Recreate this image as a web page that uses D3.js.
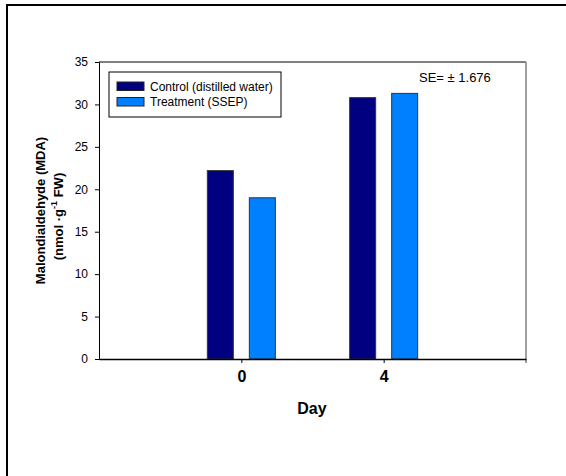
<!DOCTYPE html>
<html>
<head>
<meta charset="utf-8">
<script src="https://cdn.jsdelivr.net/npm/d3@7"></script>
<style>
  body { margin: 0; background: #fff; }
  svg { display: block; font-family: "Liberation Sans", Arial, sans-serif; }
</style>
</head>
<body>
<svg width="566" height="476"></svg>
<script>
// data
var days = ["0", "4"];
var series = ["Control (distilled water)", "Treatment (SSEP)"];
var control = [22.2, 30.8];
var treatment = [19.0, 31.3];
var yTicks = [0, 5, 10, 15, 20, 25, 30, 35];
var colors = ["#000080", "#0080ff"];

var svg = d3.select("svg");

// outer frame (only top and left edges fall inside the picture)
svg.append("rect")
    .attr("x", 7).attr("y", 5)
    .attr("width", 600).attr("height", 500)
    .attr("fill", "none")
    .attr("stroke", "#000")
    .attr("stroke-width", 2);

// plot area edges (note: "top" is taken by window.top)
var pLeft = 99, pRight = 526, pTop = 62, pBottom = 359;

var x = d3.scalePoint().domain(days).range([pLeft, pRight]).padding(1);
var y = d3.scaleLinear().domain([0, 35]).range([pBottom, pTop]);

var barW = 26, gap = 16;

// plot frame: top black, right gray
svg.append("line").attr("x1", pLeft).attr("x2", pRight).attr("y1", pTop).attr("y2", pTop)
    .attr("stroke", "#000").attr("stroke-width", 1);
svg.append("line").attr("x1", pRight).attr("x2", pRight).attr("y1", pTop).attr("y2", pBottom + 4)
    .attr("stroke", "#808080").attr("stroke-width", 1.5);

// bars
var rows = [];
days.forEach(function (d, i) {
    rows.push({day: d, s: 0, v: control[i]});
    rows.push({day: d, s: 1, v: treatment[i]});
});

svg.selectAll(".bar")
    .data(rows)
    .enter()
    .append("rect")
    .attr("class", "bar")
    .attr("x", function (d) { return d.s === 0 ? x(d.day) - gap / 2 - barW : x(d.day) + gap / 2; })
    .attr("y", function (d) { return y(d.v); })
    .attr("width", barW)
    .attr("height", function (d) { return y(0) - y(d.v); })
    .attr("fill", function (d) { return colors[d.s]; })
    .attr("stroke", "#333")
    .attr("stroke-width", 1);

// y axis
var yAxis = svg.append("g")
    .attr("transform", "translate(" + pLeft + ",0)")
    .call(d3.axisLeft(y).tickValues(yTicks).tickSize(4).tickPadding(7));
yAxis.select(".domain").attr("stroke", "#000");
yAxis.selectAll("text").style("font-size", "12px").attr("fill", "#000");

// x axis
var xAxis = svg.append("g")
    .attr("transform", "translate(0," + pBottom + ")")
    .call(d3.axisBottom(x).tickSize(4).tickPadding(8).tickSizeOuter(0));
xAxis.select(".domain").attr("stroke", "#000").attr("stroke-width", 1.5);
xAxis.selectAll("text").style("font-size", "16px").style("font-weight", "bold").attr("fill", "#000");

// axis titles
svg.append("text")
    .attr("x", 312).attr("y", 414)
    .attr("text-anchor", "middle")
    .style("font-size", "16px").style("font-weight", "bold")
    .text("Day");

var yt = svg.append("text")
    .attr("transform", "translate(45," + ((pTop + pBottom) / 2) + ") rotate(-90)")
    .attr("text-anchor", "middle")
    .style("font-size", "13px").style("font-weight", "bold");
yt.append("tspan").attr("x", 0).attr("y", 0).text("Malondialdehyde (MDA)");
var l2 = yt.append("tspan").attr("x", -6).attr("dy", 18);
l2.append("tspan").text("(nmol \u00b7g");
l2.append("tspan").attr("dy", -6).style("font-size", "9px").text("-1");
l2.append("tspan").attr("dy", 6).text(" FW)");

// legend
svg.append("rect")
    .attr("x", 109).attr("y", 72).attr("width", 172).attr("height", 45)
    .attr("fill", "#fff").attr("stroke", "#000").attr("stroke-width", 1);
var lg = svg.selectAll(".lg")
    .data(series)
    .enter()
    .append("g")
    .attr("class", "lg")
    .attr("transform", function (d, i) { return "translate(117," + (82 + i * 15.5) + ")"; });
lg.append("rect").attr("width", 27).attr("height", 8.5)
    .attr("fill", function (d, i) { return colors[i]; })
    .attr("stroke", "#222").attr("stroke-width", 1);
lg.append("text").attr("x", 33).attr("y", 8.8)
    .style("font-size", "12px")
    .text(function (d) { return d; });

// SE note
svg.append("text")
    .attr("x", 419).attr("y", 82)
    .style("font-size", "13px")
    .text("SE= \u00b1 1.676");
</script>
</body>
</html>
